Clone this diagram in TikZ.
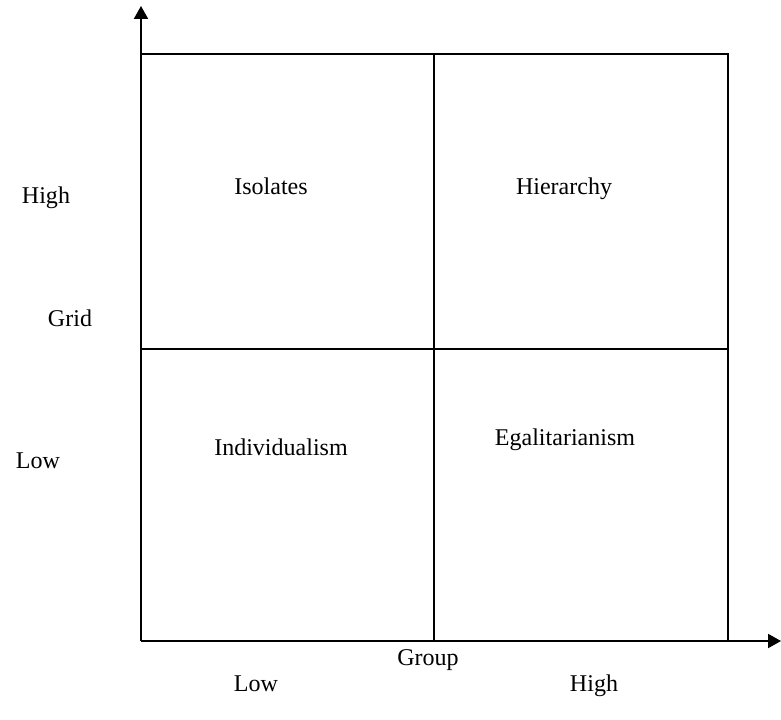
\documentclass[tikz,border=0pt]{standalone}
\usepackage{fontspec}
\setmainfont{Liberation Serif}
\usetikzlibrary{arrows.meta, positioning}

\begin{document}
\begin{tikzpicture}[x=0.03cm, y=-0.03cm, line width=1.3pt,
  lbl/.style={font=\fontsize{20.5}{24}\selectfont, inner sep=0pt}]
\useasboundingbox (0,0) rectangle (781,719);
% axes
\coordinate (origin) at (141,641);
\coordinate (ytip) at (141,6);
\coordinate (xtip) at (781,641);
\draw [-{Triangle[width=12pt,length=11pt]}] (origin) -- (ytip);
\draw [-{Triangle[width=12pt,length=11pt]}] (origin) -- (xtip);
% the four cells
\coordinate (tl) at (141,54);
\coordinate (tm) at (434,54);
\coordinate (tr) at (728,54);
\coordinate (ml) at (141,349);
\coordinate (mr) at (728,349);
\coordinate (bm) at (434,641);
\coordinate (br) at (728,641);
\draw (tl) -- (tr) -- (br);
\draw (tm) -- (bm);
\draw (ml) -- (mr);
\node [lbl] (isolates) at (271,186) {Isolates};
\node [lbl] (hierarchy) at (564,189) {Hierarchy};
\node [lbl] (individualism) at (281,447) {Individualism};
\node [lbl] (egalitarianism) at (565,440) {Egalitarianism};
% grid axis
\node [lbl] (gridhigh) at (46,198) {High};
\node [lbl] (grid) at (70,318) {Grid};
\node [lbl] (gridlow) at (38,461) {Low};
% group axis
\node [lbl] (group) at (428,660) {Group};
\node [lbl] (grouplow) at (256,684) {Low};
\node [lbl] (grouphigh) at (594,686) {High};
\end{tikzpicture}
\end{document}
